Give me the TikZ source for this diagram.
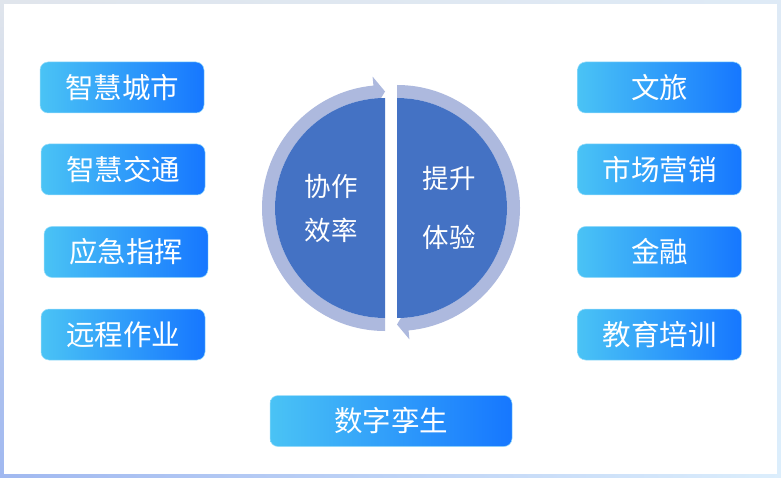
\documentclass[tikz,border=0pt]{standalone}
\usepackage{fontspec}
\newfontfamily\cjk{Noto Sans CJK SC}
\usepackage{xcolor}
\usepackage{tikz}
\usetikzlibrary{positioning,shadings}

\definecolor{ringblue}{RGB}{173,185,222}
\definecolor{discblue}{RGB}{68,114,196}
\definecolor{btnlight}{RGB}{74,195,245}
\definecolor{btndark}{RGB}{22,119,255}
\definecolor{frametl}{RGB}{224,229,236}
\definecolor{frametr}{RGB}{222,234,246}
\definecolor{framebl}{RGB}{160,184,240}
\definecolor{framebr}{RGB}{220,238,252}

\begin{document}
\begin{tikzpicture}
            [x=1pt,y=1pt,
             btn/.style={rounded corners=8pt, left color=btnlight, right color=btndark, draw=btnlight!55!white, line width=0.5pt, text=white, font=\cjk\fontsize{28.5}{28.5}\selectfont, minimum width=164pt, minimum height=51pt, inner sep=0pt},
             halftext/.style={text=white, font=\cjk\fontsize{26.5}{26.5}\selectfont, inner sep=0pt}]
            % frame
            \shade[upper left=frametl, upper right=frametr, lower left=framebl, lower right=framebr] (0,0) rectangle (781,477);
            \fill[white] (4,3) rectangle (777,473);

            % left half with arrow
            \begin{scope}[shift={(385,269)}]
              \fill[ringblue] (270:123) arc[start angle=270, end angle=95.4, radius=123] -- (95.4:132) -- (90:116.5) -- (95.4:101) -- (95.4:110) arc[start angle=95.4, end angle=270, radius=110] -- cycle;
              \fill[discblue] (90:110) arc[start angle=90, end angle=270, radius=110] -- cycle;
            \end{scope}
            % right half with arrow
            \begin{scope}[shift={(397,269)}]
              \fill[ringblue] (90:123) arc[start angle=90, end angle=-84.6, radius=123] -- (-84.6:132) -- (-90:116.5) -- (-84.6:101) -- (-84.6:110) arc[start angle=-84.6, end angle=90, radius=110] -- cycle;
              \fill[discblue] (-90:110) arc[start angle=-90, end angle=90, radius=110] -- cycle;
            \end{scope}

            \node[halftext] (xz) at (331,291) {协作};
            \node[halftext] (xl) at (331,247) {效率};
            \node[halftext] (ts) at (449,299) {提升};
            \node[halftext] (ty) at (449,240) {体验};

            \foreach \nm/\x/\y/\txt in {zhcs/122/389.5/智慧城市, zhjt/123/307.5/智慧交通, yjzh/126/225/应急指挥, yczy/123/142.5/远程作业, wl/659.5/389.5/文旅, scyx/659.5/307.5/市场营销, jr/659.5/225/金融, jypx/659.5/142.5/教育培训}
            \node[btn] (\nm) at (\x,\y) {\txt};
            \node[btn, minimum width=242pt] (szls) at (391,56) {数字孪生};
          \end{tikzpicture}
\end{document}
